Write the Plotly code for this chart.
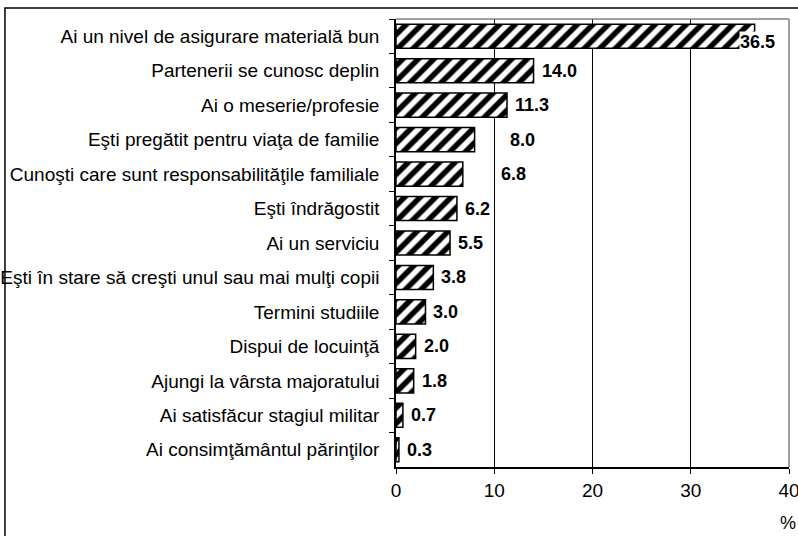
import plotly.graph_objects as go

categories = [
    "Ai un nivel de asigurare materială bun",
    "Partenerii se cunosc deplin",
    "Ai o meserie/profesie",
    "Eşti pregătit pentru viaţa de familie",
    "Cunoşti care sunt responsabilităţile familiale",
    "Eşti îndrăgostit",
    "Ai un serviciu",
    "Eşti în stare să creşti unul sau mai mulţi copii",
    "Termini studiile",
    "Dispui de locuinţă",
    "Ajungi la vârsta majoratului",
    "Ai satisfăcur stagiul militar",
    "Ai consimţământul părinţilor",
]
values = [36.5, 14.0, 11.3, 8.0, 6.8, 6.2, 5.5, 3.8, 3.0, 2.0, 1.8, 0.7, 0.3]
x_ticks = [0, 10, 20, 30, 40]

# label pixel tweaks (style only)
label_shift = {0: (-22, -6), 3: (27, 0), 4: (30, 0)}
label_boxed = {0}

FONT = "Liberation Sans, Arial, sans-serif"

fig = go.Figure(go.Bar(
    y=categories, x=values, orientation="h",
    marker=dict(color="white", line=dict(color="black", width=1.5),
                pattern=dict(shape="/", fgcolor="#000000", bgcolor="white",
                             fgopacity=1, size=11, solidity=0.5,
                             fillmode="replace")),
    hoverinfo="skip",
))

annotations = []
for i, (c, v) in enumerate(zip(categories, values)):
    dx, dy = label_shift.get(i, (0, 0))
    ann = dict(
        x=v, y=c, xref="x", yref="y", text=f"<b>{v:.1f}</b>",
        showarrow=False, xanchor="left", yanchor="middle",
        xshift=6 + dx, yshift=dy,
        font=dict(family=FONT, size=18, color="black"),
    )
    if i in label_boxed:
        ann.update(bgcolor="white", borderpad=0)
    annotations.append(ann)
annotations.append(dict(
    x=1, y=0, xref="paper", yref="paper", text="%", showarrow=False,
    xanchor="center", yanchor="top", yshift=-44, xshift=-1,
    font=dict(family=FONT, size=18, color="black"),
))

fig.update_layout(
    width=798, height=536,
    margin=dict(l=396, r=9, t=19, b=69, autoexpand=False),
    paper_bgcolor="white", plot_bgcolor="white",
    showlegend=False, bargap=0.3,
    font=dict(family=FONT, size=18, color="black"),
    annotations=annotations,
    shapes=[
        # plot-area border (top and right, gray)
        dict(type="line", xref="paper", yref="paper", x0=0, x1=1, y0=1, y1=1,
             line=dict(color="#808080", width=1.5), layer="above"),
        dict(type="line", xref="paper", yref="paper", x0=1, x1=1, y0=0, y1=1,
             line=dict(color="#808080", width=1.5), layer="above"),
        # outer chart border
        dict(type="rect", xref="paper", yref="paper", x0=-0.995, x1=1.2,
             y0=-0.5, y1=1.0246, line=dict(color="black", width=1.5),
             layer="below"),
    ],
    xaxis=dict(
        range=[0, 40], tickvals=x_ticks, ticktext=[str(t) for t in x_ticks],
        showgrid=True, gridcolor="black", gridwidth=1,
        showline=True, linecolor="black", linewidth=1.5,
        ticks="outside", ticklen=5, tickcolor="black",
        zeroline=False, tickfont=dict(size=19), fixedrange=True,
        ticklabeloverflow="allow", automargin=False,
    ),
    yaxis=dict(
        autorange="reversed", showgrid=False,
        showline=True, linecolor="black", linewidth=1.5,
        ticks="outside", ticklen=5, tickcolor="black", tickson="boundaries",
        ticklabelstandoff=11, automargin=False,
        tickfont=dict(size=19), fixedrange=True,
    ),
)

fig.write_html("out.html", config={"displayModeBar": False},
               post_script="document.body.style.margin='0';document.body.style.overflow='hidden';")
